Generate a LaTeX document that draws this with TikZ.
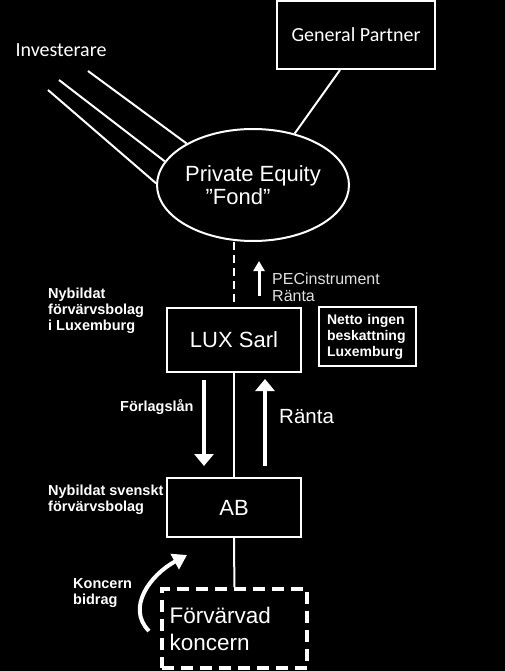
\documentclass[tikz,border=0pt]{standalone}
\usepackage{fontspec}
\setmainfont{Liberation Sans}
\newfontfamily\calibri{Carlito}
\usetikzlibrary{arrows.meta, shapes.geometric, positioning}

\begin{document}
\begin{tikzpicture}[x=1pt, y=-1pt,
        company/.style={rectangle, draw=white, line width=2pt, minimum width=134pt, minimum height=64pt, text=white, font={\fontsize{22}{25}\selectfont}},
        fund/.style={ellipse, draw=white, line width=2pt, minimum width=176pt, minimum height=112pt, inner sep=0pt, align=center, text=white, font={\fontsize{22}{23}\selectfont}},
        note/.style={anchor=west, align=left, text=white, inner sep=0pt, font={\fontsize{14.5}{16}\selectfont\bfseries}},
        flowlabel/.style={anchor=west, align=left, text=white!88!black, inner sep=0pt, font={\fontsize{16}{17}\selectfont}},
        link/.style={draw=white, line width=2pt},
        bigarrow/.style={white, line width=4pt, -{Triangle[width=19pt, length=12pt]}}
    ]
        % Background
        \fill[black] (0,0) rectangle (505,671);
        \useasboundingbox (0,0) rectangle (505,671);

        % Top (investors and fund)
        \node (gp) [rectangle, draw=white, line width=2pt, minimum width=158pt, minimum height=68pt, text=white, font={\calibri\fontsize{20}{22}\selectfont}] at (356, 35) {General Partner};
        \node (inv) [text=white, inner sep=0pt, font={\calibri\fontsize{20}{22}\selectfont}] at (61, 50) {Investerare};
        \node (fond) [fund] at (253, 185) {Private Equity\\\hspace*{-30pt}”Fond”};
        \coordinate (inv1) at (88, 71);
        \coordinate (inv2) at (59, 80);
        \coordinate (inv3) at (48, 90);

        % Middle (Luxembourg)
        \node (lux) [company] at (234, 340) {LUX Sarl};
        \node (netto) [rectangle, draw=white, line width=2pt, minimum width=97pt, minimum height=59pt, text width=81pt, inner sep=0pt, align=left, text=white, font={\fontsize{14}{16}\selectfont\bfseries}] at (367.5, 336.5) {Netto ingen\\beskattning\\Luxemburg};
        \node (luxnote) [note] at (48, 311) {Nybildat\\förvärvsbolag\\i Luxemburg};
        \node (pec) [flowlabel] at (272, 287) {PECinstrument\\Ränta};

        % Bottom (Sweden)
        \node (ab) [company, minimum height=59pt] at (234, 507.5) {AB};
        \node (abnote) [note] at (48, 500) {Nybildat svenskt\\förvärvsbolag};
        \node (target) [rectangle, draw=white, line width=4pt, dash pattern=on 12pt off 7pt, minimum width=145pt, minimum height=79pt, text width=130pt, inner sep=0pt, align=left, text=white, font={\fontsize{22.5}{27}\selectfont}] at (234.5, 628.5) {Förvärvad\\koncern};
        \node (bidrag) [note] at (73, 593) {Koncern\\bidrag};

        % Flow arrows
        \coordinate (pecA) at (259, 296);
        \coordinate (pecB) at (259, 261);
        \coordinate (loanA) at (204, 380);
        \coordinate (loanB) at (204, 466);
        \coordinate (rateA) at (265, 466);
        \coordinate (rateB) at (265, 379);
        \coordinate (grpA) at (149, 631);
        \coordinate (grpB) at (187, 555);
        \node (loan) [note] at (120, 407) {Förlagslån};
        \node (rate) [flowlabel, font={\fontsize{20.5}{22}\selectfont}, text=white] at (279, 417) {Ränta};

        % Connectors
        \draw [link] (inv1) -- (fond.148);
        \draw [link] (inv2) -- (fond.165);
        \draw [link] (inv3) -- (fond.179);
        \draw [link] (gp.south) ++(-16,0) coordinate (gpfoot) -- (fond.51);
        \draw [link, dash pattern=on 8pt off 5pt] (fond.south -| lux.north) -- (lux.north);
        \draw [link] (lux) -- (ab);
        \draw [link] (ab) -- (target);

        \draw [white, line width=3pt, -{Triangle[width=11pt, length=10pt]}] (pecA) -- (pecB);
        \draw [bigarrow] (loanA) -- (loanB);
        \draw [bigarrow] (rateA) -- (rateB);
        \draw [white, line width=4pt, -{Triangle[width=17pt, length=14pt]}] (grpA) .. controls (126,608) and (150,575) .. (grpB);
    \end{tikzpicture}
\end{document}
